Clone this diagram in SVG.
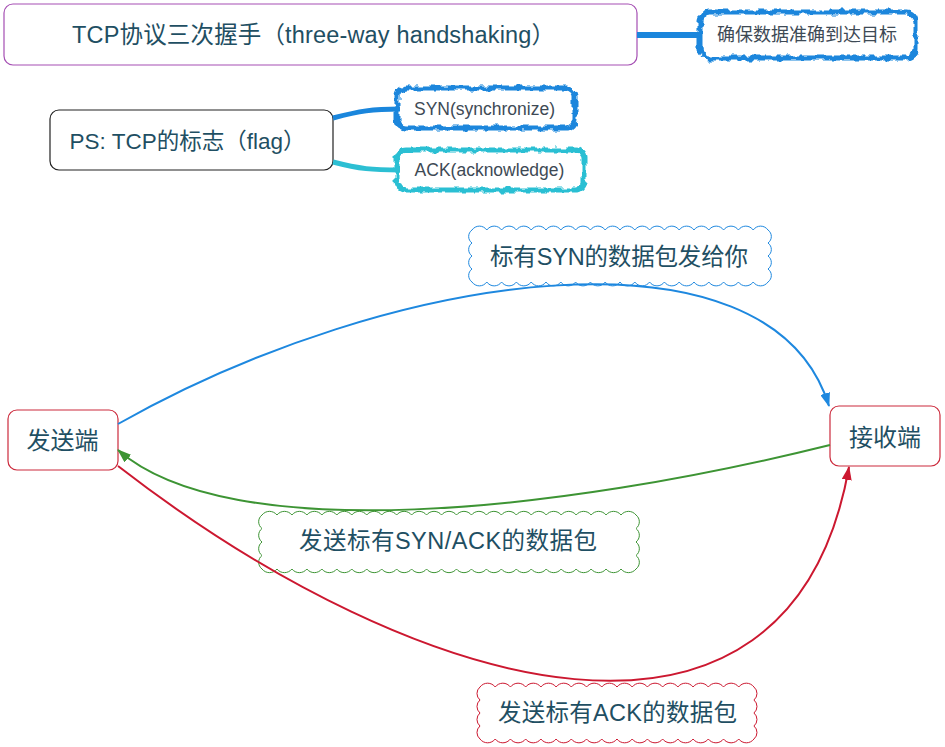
<svg xmlns="http://www.w3.org/2000/svg" width="945" height="747" viewBox="0 0 945 747">
<style>
.t{font-family:"Liberation Sans","Noto Sans CJK SC",sans-serif;fill:#1f4f63;text-anchor:middle;dominant-baseline:central}
.s{font-family:"Liberation Sans","Noto Sans CJK SC",sans-serif;fill:#3e4a55;text-anchor:middle;dominant-baseline:central}
.box{fill:#fff;stroke-width:1.2}
.thin{fill:#fff;stroke-width:1}
.thick{fill:#fff;stroke-width:5}
.edge{fill:none;stroke-width:2}
</style>
<defs>
<filter id="wob" x="-10%" y="-40%" width="120%" height="180%">
<feTurbulence type="fractalNoise" baseFrequency="0.13" numOctaves="2" seed="3" result="n"/>
<feDisplacementMap in="SourceGraphic" in2="n" scale="7" xChannelSelector="R" yChannelSelector="G"/>
</filter>
<marker id="ab" viewBox="0 0 14 10" refX="13" refY="5" markerWidth="14" markerHeight="10" markerUnits="userSpaceOnUse" orient="auto"><path d="M0,0 L14,5 L0,10 z" fill="#1e88df"/></marker>
<marker id="ag" viewBox="0 0 14 10" refX="13" refY="5" markerWidth="14" markerHeight="10" markerUnits="userSpaceOnUse" orient="auto"><path d="M0,0 L14,5 L0,10 z" fill="#3d9434"/></marker>
<marker id="ar" viewBox="0 0 14 10" refX="13" refY="5" markerWidth="14" markerHeight="10" markerUnits="userSpaceOnUse" orient="auto"><path d="M0,0 L14,5 L0,10 z" fill="#cc1830"/></marker>
</defs>
<g id="title">
<rect class="box" x="4" y="4" width="633" height="61" rx="9" stroke="#a54fb3"/>
<text class="t" x="313.5" y="35" font-size="23.5" textLength="483" lengthAdjust="spacing">TCP协议三次握手（three-way handshaking）</text>
</g>
<g id="goal">
<rect class="thick" x="700" y="12" width="216" height="46" rx="10" stroke="#1a86dc" filter="url(#wob)"/>
<text class="s" x="807" y="35" font-size="18">确保数据准确到达目标</text>
</g>
<g id="ps">
<rect class="box" x="50" y="110" width="283" height="60" rx="9" stroke="#222"/>
<text class="t" x="187.5" y="141" font-size="22.5">PS: TCP的标志（flag）</text>
</g>
<g id="syn">
<rect class="thick" x="397" y="88" width="178" height="40" rx="9" stroke="#1a86dc" filter="url(#wob)"/>
<text class="s" x="484.5" y="109" font-size="17.5">SYN(synchronize)</text>
</g>
<g id="ack">
<rect class="thick" x="397" y="150" width="187" height="40" rx="9" stroke="#2cbfd3" filter="url(#wob)"/>
<text class="s" x="489.5" y="170" font-size="17.5">ACK(acknowledge)</text>
</g>
<g id="sender">
<rect class="box" x="8" y="410" width="110" height="60" rx="9" stroke="#cc2a3c"/>
<text class="t" x="62.5" y="440" font-size="24">发送端</text>
</g>
<g id="receiver">
<rect class="box" x="830" y="406" width="110" height="60" rx="9" stroke="#cc2a3c"/>
<text class="t" x="885" y="437" font-size="24">接收端</text>
</g>
<g id="label-syn">
<path class="thin" stroke="#1e88df" d="M472,230 a9,9 0 0 1 14.8,0 a9,9 0 0 1 14.8,0 a9,9 0 0 1 14.8,0 a9,9 0 0 1 14.8,0 a9,9 0 0 1 14.8,0 a9,9 0 0 1 14.8,0 a9,9 0 0 1 14.8,0 a9,9 0 0 1 14.8,0 a9,9 0 0 1 14.8,0 a9,9 0 0 1 14.8,0 a9,9 0 0 1 14.8,0 a9,9 0 0 1 14.8,0 a9,9 0 0 1 14.8,0 a9,9 0 0 1 14.8,0 a9,9 0 0 1 14.8,0 a9,9 0 0 1 14.8,0 a9,9 0 0 1 14.8,0 a9,9 0 0 1 14.8,0 a9,9 0 0 1 14.8,0 a9,9 0 0 1 14.8,0 a8,8 0 0 1 0,13 a8,8 0 0 1 0,13 a8,8 0 0 1 0,13 a8,8 0 0 1 0,13 a9,9 0 0 1 -14.8,0 a9,9 0 0 1 -14.8,0 a9,9 0 0 1 -14.8,0 a9,9 0 0 1 -14.8,0 a9,9 0 0 1 -14.8,0 a9,9 0 0 1 -14.8,0 a9,9 0 0 1 -14.8,0 a9,9 0 0 1 -14.8,0 a9,9 0 0 1 -14.8,0 a9,9 0 0 1 -14.8,0 a9,9 0 0 1 -14.8,0 a9,9 0 0 1 -14.8,0 a9,9 0 0 1 -14.8,0 a9,9 0 0 1 -14.8,0 a9,9 0 0 1 -14.8,0 a9,9 0 0 1 -14.8,0 a9,9 0 0 1 -14.8,0 a9,9 0 0 1 -14.8,0 a9,9 0 0 1 -14.8,0 a9,9 0 0 1 -14.8,0 a8,8 0 0 1 0,-13 a8,8 0 0 1 0,-13 a8,8 0 0 1 0,-13 a8,8 0 0 1 0,-13 z"/>
<text class="t" x="619" y="257" font-size="23.5" textLength="258" lengthAdjust="spacing">标有SYN的数据包发给你</text>
</g>
<g id="label-synack">
<path class="thin" stroke="#3d9434" d="M262,515 a9.5,9.5 0 0 1 14.96,0 a9.5,9.5 0 0 1 14.96,0 a9.5,9.5 0 0 1 14.96,0 a9.5,9.5 0 0 1 14.96,0 a9.5,9.5 0 0 1 14.96,0 a9.5,9.5 0 0 1 14.96,0 a9.5,9.5 0 0 1 14.96,0 a9.5,9.5 0 0 1 14.96,0 a9.5,9.5 0 0 1 14.96,0 a9.5,9.5 0 0 1 14.96,0 a9.5,9.5 0 0 1 14.96,0 a9.5,9.5 0 0 1 14.96,0 a9.5,9.5 0 0 1 14.96,0 a9.5,9.5 0 0 1 14.96,0 a9.5,9.5 0 0 1 14.96,0 a9.5,9.5 0 0 1 14.96,0 a9.5,9.5 0 0 1 14.96,0 a9.5,9.5 0 0 1 14.96,0 a9.5,9.5 0 0 1 14.96,0 a9.5,9.5 0 0 1 14.96,0 a9.5,9.5 0 0 1 14.96,0 a9.5,9.5 0 0 1 14.96,0 a9.5,9.5 0 0 1 14.96,0 a9.5,9.5 0 0 1 14.96,0 a9.5,9.5 0 0 1 14.96,0 a8.5,8.5 0 0 1 0,13.5 a8.5,8.5 0 0 1 0,13.5 a8.5,8.5 0 0 1 0,13.5 a8.5,8.5 0 0 1 0,13.5 a9.5,9.5 0 0 1 -14.96,0 a9.5,9.5 0 0 1 -14.96,0 a9.5,9.5 0 0 1 -14.96,0 a9.5,9.5 0 0 1 -14.96,0 a9.5,9.5 0 0 1 -14.96,0 a9.5,9.5 0 0 1 -14.96,0 a9.5,9.5 0 0 1 -14.96,0 a9.5,9.5 0 0 1 -14.96,0 a9.5,9.5 0 0 1 -14.96,0 a9.5,9.5 0 0 1 -14.96,0 a9.5,9.5 0 0 1 -14.96,0 a9.5,9.5 0 0 1 -14.96,0 a9.5,9.5 0 0 1 -14.96,0 a9.5,9.5 0 0 1 -14.96,0 a9.5,9.5 0 0 1 -14.96,0 a9.5,9.5 0 0 1 -14.96,0 a9.5,9.5 0 0 1 -14.96,0 a9.5,9.5 0 0 1 -14.96,0 a9.5,9.5 0 0 1 -14.96,0 a9.5,9.5 0 0 1 -14.96,0 a9.5,9.5 0 0 1 -14.96,0 a9.5,9.5 0 0 1 -14.96,0 a9.5,9.5 0 0 1 -14.96,0 a9.5,9.5 0 0 1 -14.96,0 a9.5,9.5 0 0 1 -14.96,0 a8.5,8.5 0 0 1 0,-13.5 a8.5,8.5 0 0 1 0,-13.5 a8.5,8.5 0 0 1 0,-13.5 a8.5,8.5 0 0 1 0,-13.5 z"/>
<text class="t" x="448" y="541" font-size="23.5" textLength="298" lengthAdjust="spacing">发送标有SYN/ACK的数据包</text>
</g>
<g id="label-ack">
<path class="thin" stroke="#cc1830" d="M480,687 a9.5,9.5 0 0 1 15.22,0 a9.5,9.5 0 0 1 15.22,0 a9.5,9.5 0 0 1 15.22,0 a9.5,9.5 0 0 1 15.22,0 a9.5,9.5 0 0 1 15.22,0 a9.5,9.5 0 0 1 15.22,0 a9.5,9.5 0 0 1 15.22,0 a9.5,9.5 0 0 1 15.22,0 a9.5,9.5 0 0 1 15.22,0 a9.5,9.5 0 0 1 15.22,0 a9.5,9.5 0 0 1 15.22,0 a9.5,9.5 0 0 1 15.22,0 a9.5,9.5 0 0 1 15.22,0 a9.5,9.5 0 0 1 15.22,0 a9.5,9.5 0 0 1 15.22,0 a9.5,9.5 0 0 1 15.22,0 a9.5,9.5 0 0 1 15.22,0 a9.5,9.5 0 0 1 15.22,0 a8.5,8.5 0 0 1 0,13 a8.5,8.5 0 0 1 0,13 a8.5,8.5 0 0 1 0,13 a8.5,8.5 0 0 1 0,13 a9.5,9.5 0 0 1 -15.22,0 a9.5,9.5 0 0 1 -15.22,0 a9.5,9.5 0 0 1 -15.22,0 a9.5,9.5 0 0 1 -15.22,0 a9.5,9.5 0 0 1 -15.22,0 a9.5,9.5 0 0 1 -15.22,0 a9.5,9.5 0 0 1 -15.22,0 a9.5,9.5 0 0 1 -15.22,0 a9.5,9.5 0 0 1 -15.22,0 a9.5,9.5 0 0 1 -15.22,0 a9.5,9.5 0 0 1 -15.22,0 a9.5,9.5 0 0 1 -15.22,0 a9.5,9.5 0 0 1 -15.22,0 a9.5,9.5 0 0 1 -15.22,0 a9.5,9.5 0 0 1 -15.22,0 a9.5,9.5 0 0 1 -15.22,0 a9.5,9.5 0 0 1 -15.22,0 a9.5,9.5 0 0 1 -15.22,0 a8.5,8.5 0 0 1 0,-13 a8.5,8.5 0 0 1 0,-13 a8.5,8.5 0 0 1 0,-13 a8.5,8.5 0 0 1 0,-13 z"/>
<text class="t" x="617.5" y="713" font-size="23.5" textLength="239" lengthAdjust="spacing">发送标有ACK的数据包</text>
</g>
<g id="connectors">
<line x1="637" y1="35" x2="702" y2="35" stroke="#1a86dc" stroke-width="6"/>
<path d="M333,118 C360,111 372,109 400,109" fill="none" stroke="#1a86dc" stroke-width="5"/>
<path d="M333,162 C360,169 372,170 400,170" fill="none" stroke="#2cbfd3" stroke-width="5"/>
<path class="edge" d="M118,424 C390,270 770,215 829,406" stroke="#1e88df" marker-end="url(#ab)"/>
<path class="edge" d="M830,445 C560,512 230,548 118,450" stroke="#3d9434" marker-end="url(#ag)"/>
<path class="edge" d="M118,466 C420,700 790,800 849,467" stroke="#cc1830" marker-end="url(#ar)"/>
</g>
</svg>
